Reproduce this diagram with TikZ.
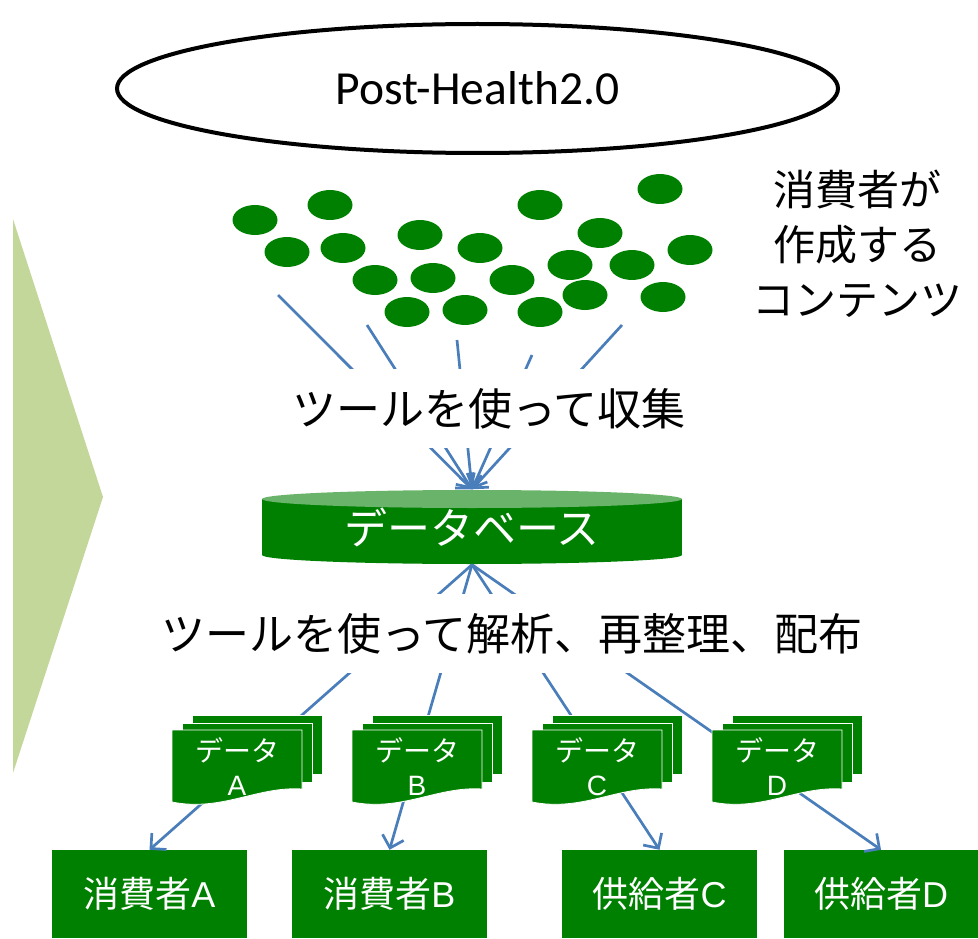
\documentclass[tikz,border=0pt]{standalone}
\usepackage{fontspec}
\setmainfont{Noto Sans CJK JP}
\newfontfamily\calib{Carlito}
\newfontfamily\lat{Liberation Sans}
\usetikzlibrary{arrows.meta,shapes.geometric}
\definecolor{dg}{HTML}{008000}
\definecolor{dglight}{HTML}{6AB36A}
\definecolor{chev}{HTML}{C4D79B}
\definecolor{conncol}{HTML}{4A7EBB}
\tikzset{
  conn/.style={draw=conncol, line width=2.7pt, -{Straight Barb[length=11pt,width=22pt,line width=2.7pt]}},
  cover/.style={fill=white, inner xsep=6pt, inner ysep=0pt, minimum height=79pt, font=\fontsize{44}{50}\selectfont},
  endbox/.style={fill=dg, text=white, minimum width=195pt, minimum height=88pt, inner sep=0pt, font=\fontsize{36}{40}\selectfont},
  doctext/.style={text=white, inner sep=0pt, font=\fontsize{28}{32}\selectfont},
  dot/.style={fill=dg},
  multidoc/.pic={
    \fill[dg, draw=white, line width=0.8pt] (20,-15) rectangle (150,44);
    \fill[dg, draw=white, line width=0.8pt] (10,-7) rectangle (140,52);
    \fill[dg, draw=white, line width=0.8pt] (0,0) -- (130,0) -- (130,59) .. controls (85,56) and (50,82) .. (0,72) -- cycle;
  }
}
\begin{document}
\begin{tikzpicture}[x=1pt,y=-1pt]
\useasboundingbox (0,0) rectangle (978,939);

% left chevron
\fill[chev] (13,219) -- (103,497) -- (13,773) -- cycle;

% top ellipse
\node[ellipse, draw=black, line width=4pt, minimum width=721pt, minimum height=129pt, inner sep=0pt, font=\calib\fontsize{47.5}{52}\selectfont] (ph) at (477.5,88.5) {Post-Health2.0};

% green content dots
\foreach \p in {(255,220),(330,205),(287,252),(343,248),(420,235),(480,248),(375,280),(433,278),(512,280),(407,312),(465,310),(540,312),(540,205),(600,233),(660,189),(570,265),(632,265),(690,250),(585,295),(663,297)}
  \fill[dot] \p ellipse[x radius=22.5, y radius=15];

% side label
\node[align=center, inner sep=0pt, font=\fontsize{42}{55}\selectfont] (contents) at (857,244) {消費者が\\作成する\\コンテンツ};

% database cylinder
\fill[dg] (262,499) rectangle (682,555);
\fill[dg] (472,555) ellipse[x radius=210, y radius=9];
\fill[dglight] (472,499) ellipse[x radius=210, y radius=9];
\node[minimum width=420pt, minimum height=75pt, inner sep=0pt, text=white, font=\fontsize{43}{48}\selectfont] (db) at (472,527) {データベース};

% collecting connectors
\coordinate (u1) at (278,295);
\coordinate (u2) at (367,325);
\coordinate (u3) at (457,340);
\coordinate (u4) at (532,355);
\coordinate (u5) at (622,325);
\foreach \u in {u1,u2,u3,u4,u5}
  \draw[conn] (\u) -- (db.north);

% end boxes
\node[endbox] (ca) at (149.5,894) {消費者{\lat A}};
\node[endbox] (cb) at (389.5,894) {消費者{\lat B}};
\node[endbox] (sc) at (659.5,894) {供給者{\lat C}};
\node[endbox] (sd) at (881,894) {供給者{\lat D}};

% distribution connectors
\draw[conn] (db.south) -- (ca.north);
\draw[conn] (db.south) -- (cb.north);
\draw[conn] (db.south) -- (sc.north);
\draw[conn] (db.south) -- (sd.north);

% text labels covering the connectors
\node[cover] (collect) at (489,408.5) {ツールを使って収集};
\node[cover] (analyze) at (512,633.5) {ツールを使って解析、再整理、配布};

% data documents
\pic at (172,730) {multidoc};
\pic at (352,730) {multidoc};
\pic at (532,730) {multidoc};
\pic at (712,730) {multidoc};
\node[doctext] (dat1) at (237,750) {データ};
\node[doctext, font=\lat\fontsize{28}{32}\selectfont] (dal1) at (237,786) {A};
\node[doctext] (dat2) at (417,750) {データ};
\node[doctext, font=\lat\fontsize{28}{32}\selectfont] (dal2) at (417,786) {B};
\node[doctext] (dat3) at (597,750) {データ};
\node[doctext, font=\lat\fontsize{28}{32}\selectfont] (dal3) at (597,786) {C};
\node[doctext] (dat4) at (777,750) {データ};
\node[doctext, font=\lat\fontsize{28}{32}\selectfont] (dal4) at (777,786) {D};
\end{tikzpicture}
\end{document}
